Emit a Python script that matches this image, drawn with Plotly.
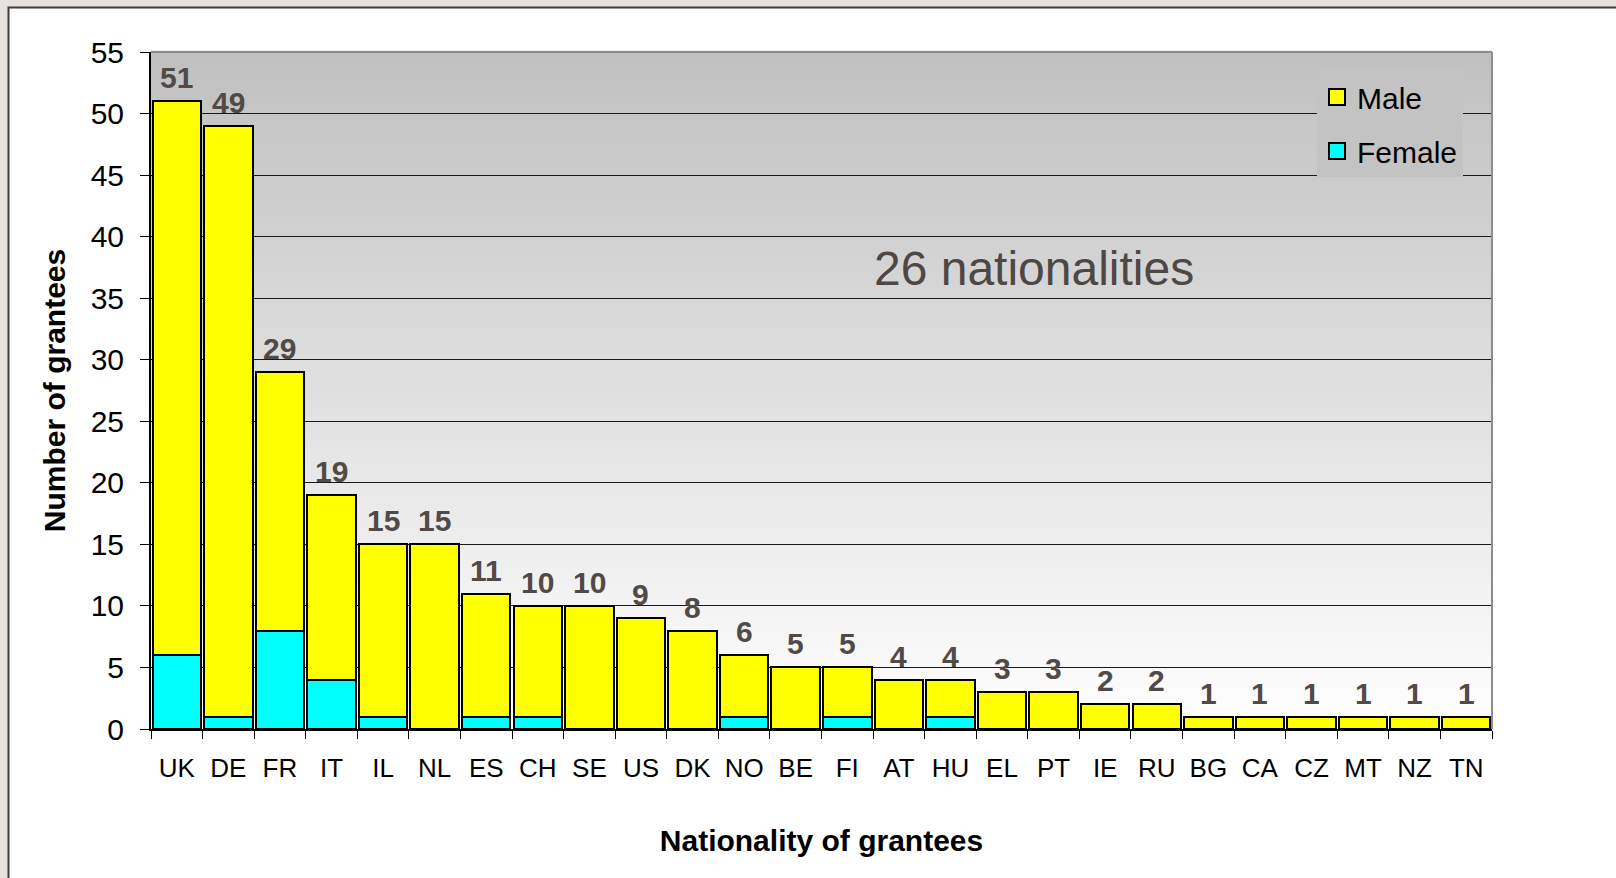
import plotly.graph_objects as go

countries = ["UK", "DE", "FR", "IT", "IL", "NL", "ES", "CH", "SE", "US", "DK", "NO", "BE",
             "FI", "AT", "HU", "EL", "PT", "IE", "RU", "BG", "CA", "CZ", "MT", "NZ", "TN"]
totals = [51, 49, 29, 19, 15, 15, 11, 10, 10, 9, 8, 6, 5, 5, 4, 4, 3, 3, 2, 2, 1, 1, 1, 1, 1, 1]
female = [6, 1, 8, 4, 1, 0, 1, 1, 0, 0, 0, 1, 0, 1, 0, 1, 0, 0, 0, 0, 0, 0, 0, 0, 0, 0]
male = [t - f for t, f in zip(totals, female)]
y_ticks = [0, 5, 10, 15, 20, 25, 30, 35, 40, 45, 50, 55]

FONT = "Liberation Sans, Arial, sans-serif"
LABEL_COLOR = "#514a47"
MALE_COLOR = "#ffff00"
FEMALE_COLOR = "#00ffff"

fig = go.Figure()
fig.add_trace(go.Bar(
    x=countries, y=female, name="Female", showlegend=False,
    marker=dict(color=FEMALE_COLOR, line=dict(color="black", width=2)),
))
fig.add_trace(go.Bar(
    x=countries, y=male, name="Male", showlegend=False,
    marker=dict(color=MALE_COLOR, line=dict(color="black", width=2)),
))
# legend entries (larger square swatches)
for name, col, grp in [("Male", MALE_COLOR, "a"), ("Female", FEMALE_COLOR, "b")]:
    fig.add_trace(go.Scatter(
        x=[None], y=[None], mode="markers", name=name, legendgroup=grp,
        marker=dict(symbol="square", size=17, color=col, line=dict(color="black", width=2)),
    ))

# total labels
for c, t in zip(countries, totals):
    fig.add_annotation(x=c, y=t, text=str(t), showarrow=False, xref="x", yref="y",
                       yanchor="bottom", yshift=5,
                       font=dict(family=FONT, size=30, color=LABEL_COLOR, weight="bold"))

fig.add_annotation(x=0.6585, y=37.4, xref="paper", yref="y", text="26 nationalities",
                   showarrow=False, font=dict(family=FONT, size=48, color="#4f4744"))

# page frame
W, H = 1616, 878
L, R, T, B = 151, 1492, 52, 729
def px_x(p):
    return (p - L) / (R - L)
def px_y(p):
    return (B - p) / (B - T)

shapes = [dict(type="rect", xref="paper", yref="paper", layer="below",
               x0=px_x(8.5), x1=px_x(1640), y0=px_y(7.5), y1=px_y(900),
               fillcolor="white", line=dict(color="#3c3c3c", width=2))]
# vertical gradient in plot area
n = 120
for i in range(n):
    frac = (i + 0.5) / n  # 0 bottom -> 1 top
    v = int(round(255 - 63 * frac))
    shapes.append(dict(type="rect", xref="paper", yref="paper", layer="below",
                       x0=0, x1=1, y0=i / n, y1=(i + 1) / n + 0.002,
                       fillcolor=f"rgb({v},{v},{v})", line=dict(width=0)))
# grey top/right border
shapes.append(dict(type="line", xref="paper", yref="paper", x0=0, x1=1, y0=1, y1=1,
                   line=dict(color="#8c8c8c", width=2)))
shapes.append(dict(type="line", xref="paper", yref="paper", x0=1, x1=1, y0=0, y1=1,
                   line=dict(color="#8c8c8c", width=2)))

fig.update_layout(
    width=W, height=H,
    margin=dict(l=L, r=W - R, t=T, b=H - B, autoexpand=False),
    paper_bgcolor="#e6e2de",
    plot_bgcolor="white",
    barmode="stack",
    bargap=0.06,
    shapes=shapes,
    font=dict(family=FONT, color="black"),
    legend=dict(
        x=px_x(1317), y=px_y(71), xanchor="left", yanchor="top",
        bgcolor="#c3c3c3", traceorder="grouped", tracegroupgap=12,
        font=dict(family=FONT, size=30, color="black"),
    ),
    xaxis=dict(
        type="category", tickson="boundaries", ticks="outside", ticklen=8,
        tickcolor="black", tickwidth=1,
        showline=True, linecolor="black", linewidth=2,
        tickfont=dict(family=FONT, size=26, color="black"),
        ticklabelstandoff=15,
        title=dict(text="Nationality of grantees", standoff=48,
                   font=dict(family=FONT, size=30, color="black", weight="bold")),
    ),
    yaxis=dict(
        range=[0, 55], tickvals=y_ticks, ticks="outside", ticklen=9,
        tickcolor="black", tickwidth=1,
        showline=True, linecolor="black", linewidth=2,
        showgrid=True, gridcolor="#1a1a1a", gridwidth=1,
        zeroline=False,
        tickfont=dict(family=FONT, size=30, color="black"),
        ticklabelstandoff=10,
        title=dict(text="Number of grantees", standoff=16,
                   font=dict(family=FONT, size=30, color="black", weight="bold")),
    ),
)

fig.write_html("out.html", config={"displayModeBar": False},
               post_script="document.body.style.margin='0';document.body.style.background='#e6e2de';")
